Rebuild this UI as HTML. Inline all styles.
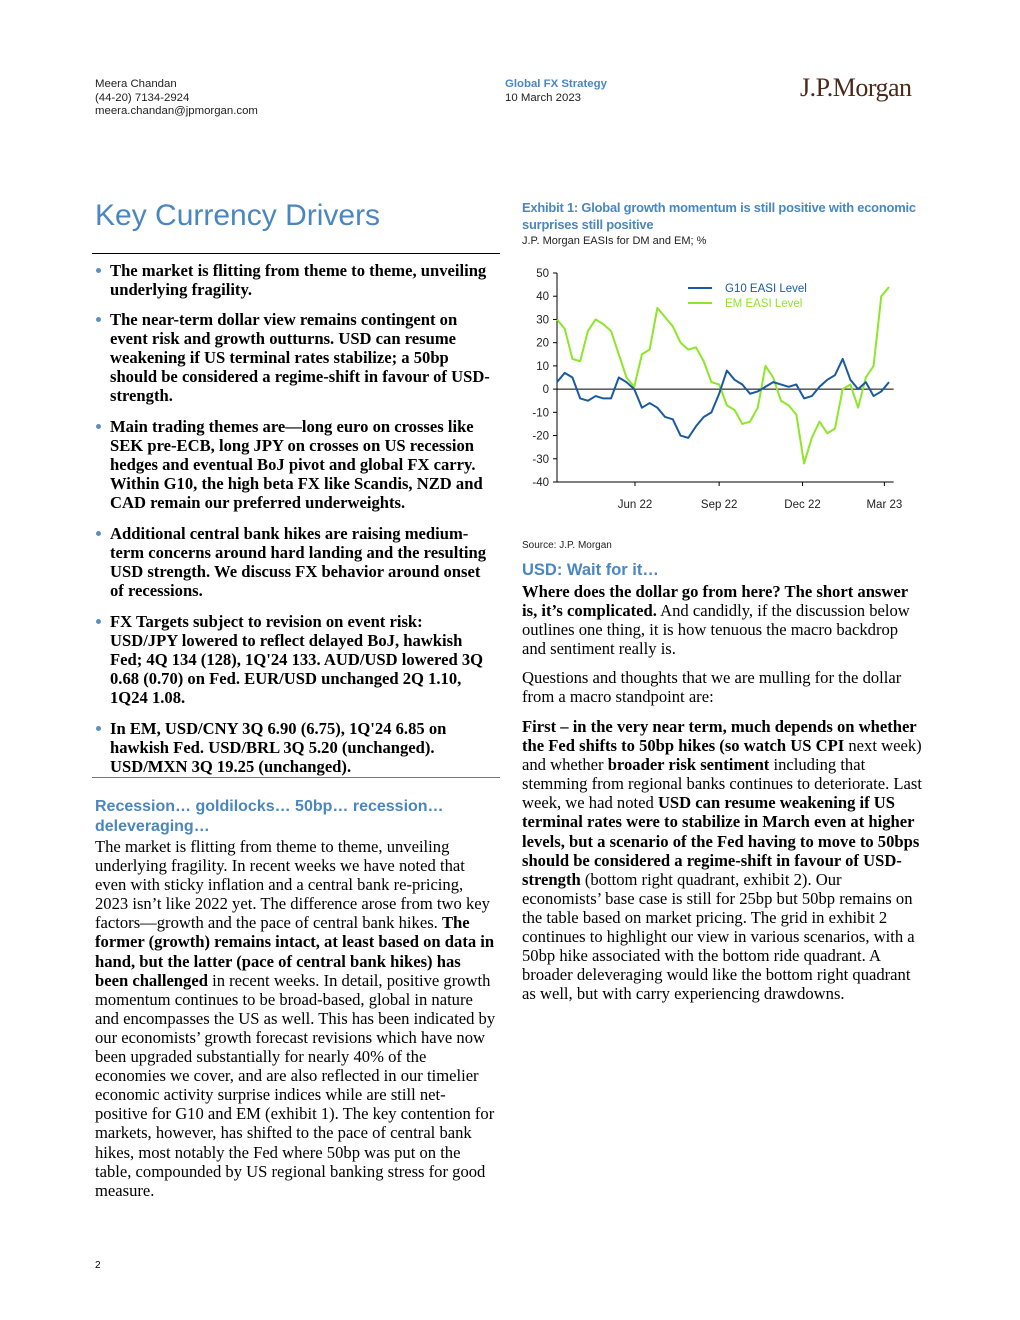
<!DOCTYPE html>
<html><head><meta charset="utf-8"><style>
body{margin:0;background:#fff;}
#page{position:relative;width:1020px;height:1320px;overflow:hidden;background:#fff;font-family:"Liberation Serif",serif;color:#000;}
.abs{position:absolute;}
.sans{font-family:"Liberation Sans",sans-serif;}
.blk{position:absolute;font-size:16.6px;line-height:19.1px;white-space:nowrap;}
.bul{position:absolute;font-size:16.6px;line-height:19.1px;white-space:nowrap;font-weight:bold;left:110px;}
.dot{position:absolute;left:-14px;top:7px;width:5px;height:5px;border-radius:50%;background:#5b8fc6;}
.blue{color:#4a86c0;}
</style></head><body>
<div id="page">
<div class="abs sans" style="left:95px;top:78px;font-size:11.4px;line-height:13.5px;color:#222">Meera Chandan<br>(44-20) 7134-2924<br>meera.chandan@jpmorgan.com</div>
<div class="abs sans" style="left:505px;top:78px;font-size:11.4px;line-height:13.5px;color:#222"><span class="blue" style="font-weight:bold">Global FX Strategy</span><br>10 March 2023</div>
<div class="abs" style="left:800px;top:73px;font-size:26px;color:#4a2a1a;letter-spacing:-0.5px">J.P.Morgan</div>

<div class="abs sans blue" style="left:95px;top:199px;font-size:30px;">Key Currency Drivers</div>
<div class="abs" style="left:92px;top:253px;width:408px;height:1px;background:#000"></div>

<div class="bul" style="top:261px"><i class="dot"></i>The market is flitting from theme to theme, unveiling<br>underlying fragility.</div>
<div class="bul" style="top:310px"><i class="dot"></i>The near-term dollar view remains contingent on<br>event risk and growth outturns. USD can resume<br>weakening if US terminal rates stabilize; a 50bp<br>should be considered a regime-shift in favour of USD-<br>strength.</div>
<div class="bul" style="top:417px"><i class="dot"></i>Main trading themes are—long euro on crosses like<br>SEK pre-ECB, long JPY on crosses on US recession<br>hedges and eventual BoJ pivot and global FX carry.<br>Within G10, the high beta FX like Scandis, NZD and<br>CAD remain our preferred underweights.</div>
<div class="bul" style="top:524px"><i class="dot"></i>Additional central bank hikes are raising medium-<br>term concerns around hard landing and the resulting<br>USD strength. We discuss FX behavior around onset<br>of recessions.</div>
<div class="bul" style="top:612px"><i class="dot"></i>FX Targets subject to revision on event risk:<br>USD/JPY lowered to reflect delayed BoJ, hawkish<br>Fed; 4Q 134 (128), 1Q'24 133. AUD/USD lowered 3Q<br>0.68 (0.70) on Fed. EUR/USD unchanged 2Q 1.10,<br>1Q24 1.08.</div>
<div class="bul" style="top:719px"><i class="dot"></i>In EM, USD/CNY 3Q 6.90 (6.75), 1Q'24 6.85 on<br>hawkish Fed. USD/BRL 3Q 5.20 (unchanged).<br>USD/MXN 3Q 19.25 (unchanged).</div>
<div class="abs" style="left:92px;top:777px;width:408px;height:1px;background:#777"></div>

<div class="abs sans blue" style="left:95px;top:797px;font-size:16px;line-height:19.5px;font-weight:bold;white-space:nowrap">Recession… goldilocks… 50bp… recession…<br>deleveraging…</div>
<div class="blk" style="left:95px;top:837px">The market is flitting from theme to theme, unveiling<br>underlying fragility. In recent weeks we have noted that<br>even with sticky inflation and a central bank re-pricing,<br>2023 isn’t like 2022 yet. The difference arose from two key<br>factors—growth and the pace of central bank hikes. <b>The</b><br><b>former (growth) remains intact, at least based on data in</b><br><b>hand, but the latter (pace of central bank hikes) has</b><br><b>been challenged</b> in recent weeks. In detail, positive growth<br>momentum continues to be broad-based, global in nature<br>and encompasses the US as well. This has been indicated by<br>our economists’ growth forecast revisions which have now<br>been upgraded substantially for nearly 40% of the<br>economies we cover, and are also reflected in our timelier<br>economic activity surprise indices while are still net-<br>positive for G10 and EM (exhibit 1). The key contention for<br>markets, however, has shifted to the pace of central bank<br>hikes, most notably the Fed where 50bp was put on the<br>table, compounded by US regional banking stress for good<br>measure.</div>

<div class="abs sans blue" style="left:522px;top:199px;font-size:12.9px;line-height:17px;font-weight:bold;white-space:nowrap;letter-spacing:-0.2px">Exhibit 1: Global growth momentum is still positive with economic<br>surprises still positive</div>
<div class="abs sans" style="left:522px;top:235px;font-size:11px;color:#222">J.P. Morgan EASIs for DM and EM; %</div>

<svg class="abs" style="left:510px;top:260px" width="410" height="260" id="chart"></svg>

<div class="abs sans" style="left:522px;top:540px;font-size:10px;color:#222">Source: J.P. Morgan</div>
<div class="abs sans blue" style="left:522px;top:561px;font-size:16.5px;font-weight:bold">USD: Wait for it…</div>
<div class="blk" style="left:522px;top:582px"><b>Where does the dollar go from here? The short answer</b><br><b>is, it’s complicated.</b> And candidly, if the discussion below<br>outlines one thing, it is how tenuous the macro backdrop<br>and sentiment really is.</div>
<div class="blk" style="left:522px;top:668px">Questions and thoughts that we are mulling for the dollar<br>from a macro standpoint are:</div>
<div class="blk" style="left:522px;top:717px"><b>First – in the very near term, much depends on whether</b><br><b>the Fed shifts to 50bp hikes (so watch US CPI</b> next week)<br>and whether <b>broader risk sentiment</b> including that<br>stemming from regional banks continues to deteriorate. Last<br>week, we had noted <b>USD can resume weakening if US</b><br><b>terminal rates were to stabilize in March even at higher</b><br><b>levels, but a scenario of the Fed having to move to 50bps</b><br><b>should be considered a regime-shift in favour of USD-</b><br><b>strength</b> (bottom right quadrant, exhibit 2). Our<br>economists’ base case is still for 25bp but 50bp remains on<br>the table based on market pricing. The grid in exhibit 2<br>continues to highlight our view in various scenarios, with a<br>50bp hike associated with the bottom ride quadrant. A<br>broader deleveraging would like the bottom right quadrant<br>as well, but with carry experiencing drawdowns.</div>

<div class="abs sans" style="left:95px;top:1260px;font-size:10px">2</div>
</div>
<script>
const g10Values=[3,7,5,-4,-5,-3,-4,-4,5,3,0,-8,-6,-8,-12,-13,-20,-21,-16,-12,-10,-2,8,4,2,-2,-1,1,3,2,1,2,-4,-3,1,4,6,13,4,0,3,-3,-1,3];
const emValues=[30,26,13,12,25,30,28,25,15,5,1,15,17,35,31,27,20,17,18,12,3,2,-7,-9,-15,-14,-8,10,5,-5,-7,-11,-32,-21,-14,-19,-17,0,2,-8,5,10,40,44];
const yTicks=[50,40,30,20,10,0,-10,-20,-30,-40];
const xTickLabels=["Jun 22","Sep 22","Dec 22","Mar 23"];
const xTickIdx=[10.1,21,31.8,42.4];
const seriesNames=["G10 EASI Level","EM EASI Level"];
const svg=document.getElementById('chart');
const NS='http://www.w3.org/2000/svg';
const OX=510,OY=260;
function yS(v){return 482-(v+40)*(209/90)-OY;}
function xS(i){return 557+i*(332/43)-OX;}
function mk(tag,attrs){const e=document.createElementNS(NS,tag);for(const k in attrs)e.setAttribute(k,attrs[k]);svg.appendChild(e);return e;}
let ax=mk('line',{x1:xS(0),x2:xS(0),y1:yS(50),y2:yS(-40),stroke:'#000','stroke-width':1});


yTicks.forEach(t=>{
  mk('line',{x1:xS(0)-4,x2:xS(0),y1:yS(t),y2:yS(t),stroke:'#000'});
  const tx=mk('text',{x:xS(0)-8,y:yS(t)+4,'text-anchor':'end','font-size':11.5,'font-family':'Liberation Sans, sans-serif',fill:'#222'});
  tx.textContent=t;
  
  
});
let bx=mk('line',{x1:xS(0),x2:xS(43.6),y1:yS(-40),y2:yS(-40),stroke:'#000'});


let zl=mk('line',{x1:xS(0),x2:xS(43.6),y1:yS(0),y2:yS(0),stroke:'#000'});


xTickLabels.forEach((l,i)=>{
  mk('line',{x1:xS(xTickIdx[i]),x2:xS(xTickIdx[i]),y1:yS(-40),y2:yS(-40)+4,stroke:'#000'});
  const tx=mk('text',{x:xS(xTickIdx[i]),y:yS(-40)+26,'text-anchor':'middle','font-size':11.5,'font-family':'Liberation Sans, sans-serif',fill:'#222'});
  tx.textContent=l;
  
  
});
function line(vals,color,name){
  const p=mk('polyline',{points:vals.map((v,i)=>xS(i)+','+yS(v)).join(' '),fill:'none',stroke:color,'stroke-width':2,'stroke-linejoin':'round'});
  
  
}
line(emValues,'#8ee62a','em-easi-line');
line(g10Values,'#1a5aa0','g10-easi-line');
const colors=['#1a5aa0','#8ee62a'];
seriesNames.forEach((n,i)=>{
  mk('line',{x1:688-OX,x2:712-OX,y1:288-OY+i*15,y2:288-OY+i*15,stroke:colors[i],'stroke-width':2});
  const tx=mk('text',{x:725-OX,y:292-OY+i*15,'font-size':11.5,'font-family':'Liberation Sans, sans-serif',fill:colors[i]});
  tx.textContent=n;
  
  
});
</script>
</body></html>
